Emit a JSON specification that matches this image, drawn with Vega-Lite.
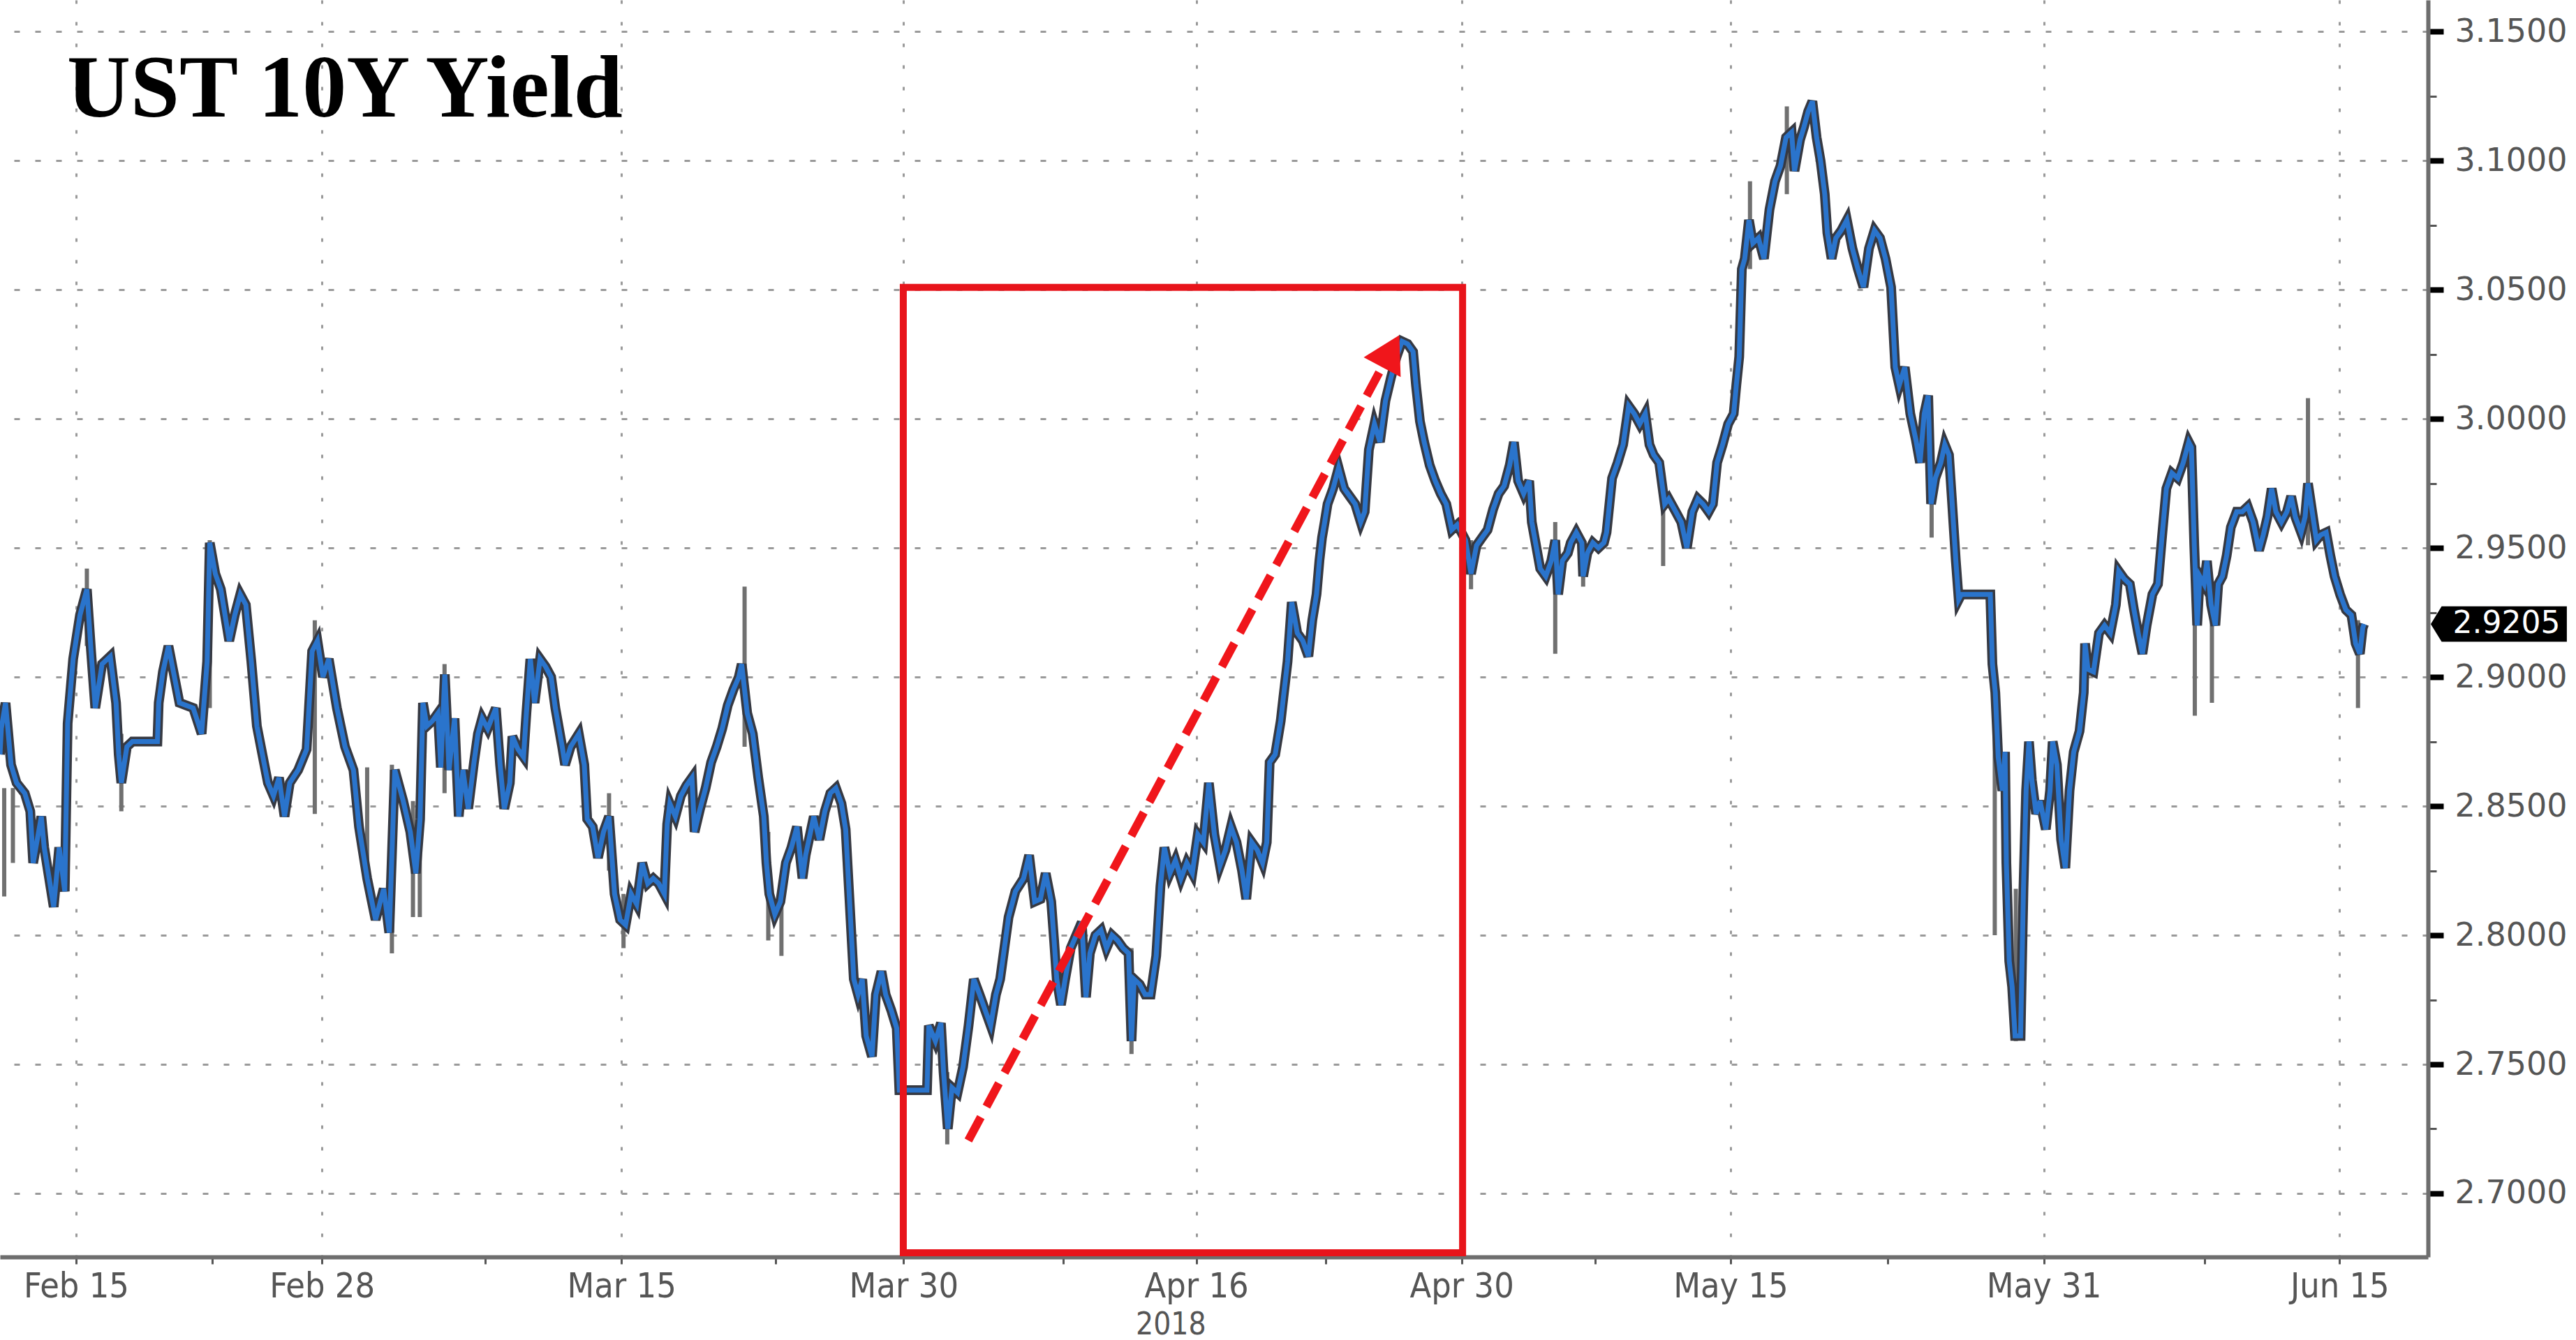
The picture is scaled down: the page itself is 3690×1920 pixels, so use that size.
{
  "$schema": "https://vega.github.io/schema/vega-lite/v6.json",
  "width": 3478,
  "height": 1801,
  "padding": 0,
  "background": "white",
  "config": {"view": {"stroke": null}},
  "datasets": {
    "series": [
      {"t":-2.89,"v":2.870},{"t":-2.84,"v":2.880},{"t":-2.68,"v":2.890},{"t":-2.47,"v":2.866},{"t":-2.26,"v":2.859},{"t":-1.95,"v":2.855},{"t":-1.74,"v":2.848},{"t":-1.63,"v":2.828},{"t":-1.32,"v":2.846},{"t":-1.21,"v":2.834},{"t":-0.85,"v":2.811},{"t":-0.64,"v":2.834},{"t":-0.43,"v":2.817},{"t":-0.32,"v":2.882},{"t":-0.11,"v":2.907},{"t":0.15,"v":2.924},{"t":0.41,"v":2.934},{"t":0.57,"v":2.910},{"t":0.73,"v":2.888},{"t":0.99,"v":2.905},{"t":1.30,"v":2.908},{"t":1.52,"v":2.890},{"t":1.62,"v":2.870},{"t":1.72,"v":2.859},{"t":1.93,"v":2.873},{"t":2.14,"v":2.875},{"t":3.09,"v":2.875},{"t":3.14,"v":2.890},{"t":3.30,"v":2.902},{"t":3.51,"v":2.912},{"t":3.93,"v":2.890},{"t":4.45,"v":2.888},{"t":4.77,"v":2.878},{"t":4.98,"v":2.906},{"t":5.08,"v":2.952},{"t":5.29,"v":2.940},{"t":5.50,"v":2.934},{"t":5.82,"v":2.914},{"t":6.03,"v":2.924},{"t":6.24,"v":2.932},{"t":6.45,"v":2.928},{"t":6.66,"v":2.906},{"t":6.87,"v":2.881},{"t":7.08,"v":2.870},{"t":7.29,"v":2.859},{"t":7.50,"v":2.854},{"t":7.71,"v":2.861},{"t":7.92,"v":2.846},{"t":8.12,"v":2.859},{"t":8.44,"v":2.864},{"t":8.76,"v":2.872},{"t":8.97,"v":2.910},{"t":9.17,"v":2.914},{"t":9.38,"v":2.900},{"t":9.60,"v":2.907},{"t":9.91,"v":2.888},{"t":10.22,"v":2.873},{"t":10.54,"v":2.864},{"t":10.75,"v":2.842},{"t":11.06,"v":2.822},{"t":11.38,"v":2.806},{"t":11.69,"v":2.818},{"t":11.90,"v":2.801},{"t":12.11,"v":2.864},{"t":12.43,"v":2.852},
      {"t":12.70,"v":2.840},{"t":12.91,"v":2.824},{"t":13.07,"v":2.845},{"t":13.18,"v":2.890},{"t":13.33,"v":2.881},{"t":13.54,"v":2.883},{"t":13.75,"v":2.886},{"t":13.86,"v":2.865},{"t":14.01,"v":2.901},{"t":14.07,"v":2.888},{"t":14.17,"v":2.864},{"t":14.38,"v":2.884},{"t":14.54,"v":2.846},{"t":14.70,"v":2.864},{"t":14.90,"v":2.849},{"t":15.12,"v":2.867},{"t":15.27,"v":2.878},{"t":15.43,"v":2.884},{"t":15.64,"v":2.880},{"t":15.95,"v":2.888},{"t":16.11,"v":2.866},{"t":16.27,"v":2.849},{"t":16.48,"v":2.859},{"t":16.58,"v":2.877},{"t":16.79,"v":2.872},{"t":17.00,"v":2.869},{"t":17.11,"v":2.886},{"t":17.26,"v":2.907},{"t":17.42,"v":2.890},{"t":17.63,"v":2.907},{"t":17.84,"v":2.904},{"t":18.05,"v":2.900},{"t":18.21,"v":2.888},{"t":18.47,"v":2.873},{"t":18.58,"v":2.866},{"t":18.79,"v":2.873},{"t":19.10,"v":2.878},{"t":19.31,"v":2.866},{"t":19.42,"v":2.845},{"t":19.63,"v":2.842},{"t":19.83,"v":2.830},{"t":20.04,"v":2.840},{"t":20.25,"v":2.846},{"t":20.46,"v":2.816},{"t":20.67,"v":2.806},{"t":20.88,"v":2.804},{"t":21.09,"v":2.816},{"t":21.30,"v":2.812},{"t":21.51,"v":2.828},{"t":21.72,"v":2.820},{"t":21.93,"v":2.822},{"t":22.14,"v":2.820},{"t":22.35,"v":2.816},{"t":22.46,"v":2.843},{"t":22.56,"v":2.851},{"t":22.77,"v":2.846},{"t":22.98,"v":2.854},{"t":23.19,"v":2.858},{"t":23.40,"v":2.861},{"t":23.50,"v":2.840},{"t":23.71,"v":2.849},{"t":23.92,"v":2.857},{"t":24.13,"v":2.867},{"t":24.34,"v":2.873},{"t":24.55,"v":2.880},{"t":24.76,"v":2.889},{"t":24.97,"v":2.895},{"t":25.18,"v":2.900},{"t":25.29,"v":2.905},{"t":25.50,"v":2.886},{"t":25.71,"v":2.878},{"t":25.92,"v":2.861},{"t":26.13,"v":2.846},{"t":26.23,"v":2.828},{"t":26.34,"v":2.816},{"t":26.55,"v":2.808},{"t":26.76,"v":2.813},{"t":26.97,"v":2.828},{"t":27.18,"v":2.834},{"t":27.39,"v":2.842},{"t":27.60,"v":2.822},
      {"t":27.72,"v":2.831},{"t":28.03,"v":2.846},{"t":28.24,"v":2.837},{"t":28.45,"v":2.848},{"t":28.66,"v":2.855},{"t":28.87,"v":2.857},{"t":29.08,"v":2.851},{"t":29.24,"v":2.841},{"t":29.39,"v":2.813},{"t":29.55,"v":2.783},{"t":29.71,"v":2.777},{"t":29.87,"v":2.783},{"t":30.02,"v":2.761},{"t":30.24,"v":2.753},{"t":30.39,"v":2.777},{"t":30.60,"v":2.786},{"t":30.76,"v":2.777},{"t":30.97,"v":2.771},{"t":31.18,"v":2.764},{"t":31.28,"v":2.740},{"t":32.33,"v":2.740},{"t":32.40,"v":2.765},{"t":32.65,"v":2.759},{"t":32.86,"v":2.766},{"t":32.96,"v":2.747},{"t":33.12,"v":2.725},{"t":33.28,"v":2.741},{"t":33.49,"v":2.739},{"t":33.70,"v":2.749},{"t":33.91,"v":2.765},{"t":34.11,"v":2.783},{"t":34.33,"v":2.777},{"t":34.54,"v":2.771},{"t":34.75,"v":2.765},{"t":34.95,"v":2.777},{"t":35.11,"v":2.783},{"t":35.27,"v":2.795},{"t":35.43,"v":2.807},{"t":35.69,"v":2.817},{"t":36.00,"v":2.822},{"t":36.21,"v":2.831},{"t":36.42,"v":2.813},{"t":36.64,"v":2.814},{"t":36.84,"v":2.824},{"t":37.05,"v":2.813},{"t":37.16,"v":2.798},{"t":37.26,"v":2.783},{"t":37.42,"v":2.773},{"t":37.58,"v":2.783},{"t":37.79,"v":2.795},{"t":38.00,"v":2.800},{"t":38.21,"v":2.805},{"t":38.37,"v":2.776},{"t":38.52,"v":2.793},{"t":38.73,"v":2.800},{"t":38.94,"v":2.802},{"t":39.15,"v":2.795},{"t":39.36,"v":2.800},{"t":39.57,"v":2.798},{"t":39.78,"v":2.795},{"t":39.99,"v":2.793},{"t":40.10,"v":2.759},{"t":40.20,"v":2.783},{"t":40.41,"v":2.781},{"t":40.62,"v":2.777},{"t":40.83,"v":2.777},{"t":41.04,"v":2.792},{"t":41.20,"v":2.819},{"t":41.35,"v":2.834},{"t":41.56,"v":2.824},{"t":41.77,"v":2.829},{"t":41.98,"v":2.822},
      {"t":42.20,"v":2.828},{"t":42.41,"v":2.824},{"t":42.62,"v":2.839},{"t":42.83,"v":2.836},{"t":43.04,"v":2.859},{"t":43.25,"v":2.839},{"t":43.46,"v":2.827},{"t":43.67,"v":2.833},{"t":43.88,"v":2.842},{"t":44.09,"v":2.836},{"t":44.30,"v":2.825},{"t":44.46,"v":2.814},{"t":44.67,"v":2.836},{"t":44.88,"v":2.833},{"t":45.08,"v":2.828},{"t":45.24,"v":2.836},{"t":45.35,"v":2.867},{"t":45.56,"v":2.870},{"t":45.77,"v":2.883},{"t":45.87,"v":2.892},{"t":46.03,"v":2.906},{"t":46.19,"v":2.929},{"t":46.40,"v":2.917},{"t":46.61,"v":2.914},{"t":46.82,"v":2.908},{"t":46.97,"v":2.922},{"t":47.13,"v":2.932},{"t":47.24,"v":2.945},{"t":47.34,"v":2.954},{"t":47.44,"v":2.960},{"t":47.55,"v":2.967},{"t":47.76,"v":2.973},{"t":47.97,"v":2.981},{"t":48.18,"v":2.973},{"t":48.39,"v":2.970},{"t":48.60,"v":2.967},{"t":48.81,"v":2.960},{"t":48.96,"v":2.964},{"t":49.12,"v":2.988},{"t":49.33,"v":2.998},{"t":49.54,"v":2.991},{"t":49.75,"v":3.007},{"t":49.96,"v":3.016},{"t":50.17,"v":3.024},{"t":50.38,"v":3.030},{"t":50.59,"v":3.029},{"t":50.80,"v":3.026},{"t":50.91,"v":3.013},{"t":51.06,"v":2.999},{"t":51.22,"v":2.991},{"t":51.43,"v":2.982},{"t":51.64,"v":2.976},{"t":51.85,"v":2.971},{"t":52.06,"v":2.967},{"t":52.27,"v":2.957},{"t":52.48,"v":2.959},{"t":52.79,"v":2.953},{"t":53.00,"v":2.940},{"t":53.21,"v":2.951},{"t":53.42,"v":2.954},{"t":53.63,"v":2.957},{"t":53.84,"v":2.965},{"t":54.05,"v":2.971},{"t":54.26,"v":2.974},{"t":54.47,"v":2.982},{"t":54.63,"v":2.991},{"t":54.79,"v":2.976},{"t":55.00,"v":2.971},{"t":55.21,"v":2.976},{"t":55.31,"v":2.960},{"t":55.47,"v":2.951},{"t":55.63,"v":2.942},{"t":55.84,"v":2.939},{"t":56.05,"v":2.945},{"t":56.20,"v":2.953},{"t":56.31,"v":2.932},{"t":56.47,"v":2.945},{"t":56.68,"v":2.948},
      {"t":56.79,"v":2.952},{"t":57.00,"v":2.956},{"t":57.21,"v":2.952},{"t":57.26,"v":2.939},{"t":57.42,"v":2.948},{"t":57.63,"v":2.952},{"t":57.84,"v":2.950},{"t":58.05,"v":2.952},{"t":58.15,"v":2.956},{"t":58.26,"v":2.967},{"t":58.36,"v":2.977},{"t":58.57,"v":2.983},{"t":58.78,"v":2.990},{"t":58.99,"v":3.005},{"t":59.20,"v":3.002},{"t":59.41,"v":2.998},{"t":59.62,"v":3.002},{"t":59.78,"v":2.990},{"t":59.94,"v":2.986},{"t":60.15,"v":2.983},{"t":60.36,"v":2.967},{"t":60.51,"v":2.969},{"t":60.78,"v":2.964},{"t":60.99,"v":2.960},{"t":61.20,"v":2.950},{"t":61.41,"v":2.964},{"t":61.62,"v":2.969},{"t":61.82,"v":2.967},{"t":62.03,"v":2.964},{"t":62.19,"v":2.967},{"t":62.35,"v":2.983},{"t":62.56,"v":2.990},{"t":62.77,"v":2.998},{"t":62.98,"v":3.002},{"t":63.08,"v":3.013},{"t":63.19,"v":3.024},{"t":63.29,"v":3.058},{"t":63.40,"v":3.062},{"t":63.56,"v":3.077},{"t":63.71,"v":3.068},{"t":63.92,"v":3.070},{"t":64.13,"v":3.062},{"t":64.24,"v":3.072},{"t":64.34,"v":3.081},{"t":64.55,"v":3.092},{"t":64.76,"v":3.098},{"t":64.97,"v":3.109},{"t":65.18,"v":3.111},{"t":65.29,"v":3.096},{"t":65.50,"v":3.108},{"t":65.65,"v":3.113},{"t":65.81,"v":3.119},{"t":65.97,"v":3.123},{"t":66.13,"v":3.109},{"t":66.28,"v":3.100},{"t":66.44,"v":3.087},{"t":66.54,"v":3.072},{"t":66.70,"v":3.062},{"t":66.86,"v":3.070},{"t":67.07,"v":3.073},{"t":67.28,"v":3.077},{"t":67.49,"v":3.066},{"t":67.70,"v":3.058},{"t":67.91,"v":3.051},{"t":68.12,"v":3.066},{"t":68.33,"v":3.073},{"t":68.54,"v":3.070},{"t":68.75,"v":3.062},{"t":68.96,"v":3.051},{"t":69.12,"v":3.020},{"t":69.27,"v":3.013},{"t":69.48,"v":3.020},{"t":69.69,"v":3.002},{"t":69.90,"v":2.992},{"t":70.06,"v":2.983},{"t":70.22,"v":3.002},{"t":70.37,"v":3.009},{"t":70.48,"v":2.967},{"t":70.64,"v":2.977},{"t":70.85,"v":2.983},{"t":71.00,"v":2.990},{"t":71.16,"v":2.986},{"t":71.27,"v":2.969},{"t":71.42,"v":2.945},{"t":71.53,"v":2.930},{"t":71.63,"v":2.932},{"t":72.73,"v":2.932},
      {"t":72.81,"v":2.905},{"t":72.92,"v":2.894},{"t":73.03,"v":2.869},{"t":73.19,"v":2.856},{"t":73.29,"v":2.871},{"t":73.34,"v":2.828},{"t":73.45,"v":2.790},{"t":73.56,"v":2.780},{"t":73.67,"v":2.761},{"t":73.88,"v":2.761},{"t":73.99,"v":2.818},{"t":74.09,"v":2.856},{"t":74.20,"v":2.875},{"t":74.31,"v":2.860},{"t":74.47,"v":2.847},{"t":74.62,"v":2.852},{"t":74.84,"v":2.841},{"t":75.00,"v":2.856},{"t":75.10,"v":2.875},{"t":75.26,"v":2.866},{"t":75.42,"v":2.837},{"t":75.58,"v":2.826},{"t":75.74,"v":2.856},{"t":75.90,"v":2.871},{"t":76.12,"v":2.879},{"t":76.28,"v":2.894},{"t":76.33,"v":2.913},{"t":76.44,"v":2.903},{"t":76.65,"v":2.902},{"t":76.86,"v":2.917},{"t":77.07,"v":2.920},{"t":77.29,"v":2.917},{"t":77.50,"v":2.928},{"t":77.61,"v":2.941},{"t":77.82,"v":2.938},{"t":78.03,"v":2.936},{"t":78.19,"v":2.926},{"t":78.35,"v":2.917},{"t":78.51,"v":2.909},{"t":78.67,"v":2.920},{"t":78.89,"v":2.932},{"t":79.10,"v":2.936},{"t":79.26,"v":2.955},{"t":79.42,"v":2.973},{"t":79.63,"v":2.979},{"t":79.85,"v":2.977},{"t":80.06,"v":2.983},{"t":80.27,"v":2.991},{"t":80.37,"v":2.989},{"t":80.48,"v":2.951},{"t":80.59,"v":2.920},{"t":80.69,"v":2.939},{"t":80.85,"v":2.936},{"t":80.96,"v":2.945},{"t":81.12,"v":2.928},{"t":81.28,"v":2.920},{"t":81.39,"v":2.936},{"t":81.55,"v":2.939},{"t":81.71,"v":2.947},{"t":81.87,"v":2.958},{"t":82.09,"v":2.964},{"t":82.30,"v":2.964},{"t":82.51,"v":2.966},{"t":82.72,"v":2.960},{"t":82.94,"v":2.949},{"t":83.10,"v":2.955},{"t":83.26,"v":2.962},{"t":83.42,"v":2.973},{"t":83.58,"v":2.964},{"t":83.79,"v":2.960},{"t":84.00,"v":2.964},{"t":84.16,"v":2.970},{"t":84.32,"v":2.962},{"t":84.54,"v":2.956},{"t":84.69,"v":2.962},{"t":84.80,"v":2.975},{"t":84.96,"v":2.964},{"t":85.12,"v":2.953},{"t":85.28,"v":2.955},{"t":85.49,"v":2.956},{"t":85.65,"v":2.947},{"t":85.81,"v":2.939},{"t":86.02,"v":2.932},{"t":86.24,"v":2.926},{"t":86.45,"v":2.924},{"t":86.61,"v":2.913},{"t":86.77,"v":2.909},{"t":86.88,"v":2.919},{"t":86.93,"v":2.9205}
    ],
    "wicks": [
      {"t":-2.73,"v":2.815,"v2":2.857},{"t":-2.40,"v":2.828,"v2":2.857},{"t":-0.37,"v":2.817,"v2":2.888},{"t":0.41,"v":2.912,"v2":2.942},{"t":1.72,"v":2.848,"v2":2.878},{"t":5.08,"v":2.888,"v2":2.953},{"t":9.07,"v":2.847,"v2":2.922},{"t":11.06,"v":2.823,"v2":2.865},{"t":12.00,"v":2.793,"v2":2.866},{"t":12.80,"v":2.807,"v2":2.852},{"t":13.06,"v":2.807,"v2":2.876},{"t":14.00,"v":2.855,"v2":2.905},{"t":20.25,"v":2.825,"v2":2.855},{"t":20.80,"v":2.795,"v2":2.816},{"t":25.40,"v":2.873,"v2":2.935},{"t":26.30,"v":2.798,"v2":2.840},{"t":26.80,"v":2.792,"v2":2.816},{"t":33.10,"v":2.719,"v2":2.747},{"t":40.10,"v":2.754,"v2":2.795},{"t":53.00,"v":2.934,"v2":2.953},{"t":56.20,"v":2.909,"v2":2.960},{"t":57.26,"v":2.935,"v2":2.952},{"t":60.30,"v":2.943,"v2":2.979},{"t":63.60,"v":3.058,"v2":3.092},{"t":65.00,"v":3.087,"v2":3.121},{"t":70.50,"v":2.954,"v2":2.983},{"t":72.90,"v":2.800,"v2":2.905},{"t":73.70,"v":2.759,"v2":2.818},{"t":80.50,"v":2.885,"v2":2.951},{"t":81.15,"v":2.890,"v2":2.936},{"t":84.80,"v":2.951,"v2":3.008},{"t":86.70,"v":2.888,"v2":2.922}
    ],
    "box": [{"t":31.43,"t2":52.68,"v":2.677,"v2":3.0509}],
    "arrow": [{"t":33.9,"v":2.7205},{"t":49.62,"v":3.020}],
    "head": [{"t":49.95,"v":3.0262}],
    "title": [{"t":-0.345,"v":3.117,"label":"UST 10Y Yield"}],
    "year": [{"t":41.6,"v":2.6488,"label":"2018"}],
    "tagbox": [{"t":92.05,"v":2.9205}],
    "tagtext": [{"t":90.3,"v":2.9205,"label":"2.9205"}]
  },
  "encoding": {
    "x": {"field": "t", "type": "quantitative", "scale": {"domain": [-2.89, 89.36], "nice": false, "zero": false},
      "axis": {"title": null, "orient": "bottom",
        "values": [0, 5.17, 9.34, 15.55, 20.72, 26.57, 31.44, 37.51, 42.56, 47.47, 52.64, 57.73, 62.86, 68.83, 74.76, 80.87, 86],
        "labelExpr": "round(datum.value*100) % 2 === 1 ? '' : datum.value < 1 ? 'Feb 15' : datum.value < 10 ? 'Feb 28' : datum.value < 21 ? 'Mar 15' : datum.value < 32 ? 'Mar 30' : datum.value < 43 ? 'Apr 16' : datum.value < 53 ? 'Apr 30' : datum.value < 63 ? 'May 15' : datum.value < 75 ? 'May 31' : 'Jun 15'",
        "labelFont": "DejaVu Sans Condensed", "labelFontSize": 50, "labelColor": "#555555", "labelPadding": 7,
        "labelOverlap": false, "labelFlush": false, "labelBound": false,
        "domainColor": "#6e6e6e", "domainWidth": 6,
        "tickColor": "#555555", "tickWidth": 3, "tickSize": 10,
        "grid": true, "gridColor": "#9a9a9a", "gridWidth": 3, "gridDash": [5, 26],
        "gridOpacity": {"condition": {"test": "round(datum.value*100) % 2 === 1", "value": 0}, "value": 1}
      }},
    "y": {"field": "v", "type": "quantitative", "scale": {"domain": [2.6754, 3.1622], "nice": false, "zero": false},
      "axis": {"title": null, "orient": "right",
        "values": [2.7, 2.725, 2.75, 2.775, 2.8, 2.825, 2.85, 2.875, 2.9, 2.925, 2.95, 2.975, 3.0, 3.025, 3.05, 3.075, 3.1, 3.125, 3.15],
        "labelExpr": "round(datum.value*1000) % 50 === 0 ? format(datum.value, '.4f') : ''",
        "labelFont": "DejaVu Sans", "labelFontSize": 46, "labelColor": "#555555", "labelPadding": 16,
        "labelOverlap": false, "labelBound": false, "labelFlush": false,
        "domainColor": "#6e6e6e", "domainWidth": 6,
        "tickColor": {"condition": {"test": "round(datum.value*1000) % 50 !== 0", "value": "#555555"}, "value": "#000000"},
        "tickWidth": {"condition": {"test": "round(datum.value*1000) % 50 !== 0", "value": 3}, "value": 8},
        "tickSize": {"condition": {"test": "round(datum.value*1000) % 50 !== 0", "value": 12}, "value": 22},
        "grid": true, "gridColor": "#9a9a9a", "gridWidth": 3, "gridDash": [8, 22],
        "gridOpacity": {"condition": {"test": "round(datum.value*1000) % 50 !== 0", "value": 0}, "value": 1}
      }}
  },
  "layer": [
    {
      "data": {"name": "wicks"},
      "mark": {"type": "rule", "color": "#707070", "strokeWidth": 6},
      "encoding": {"y2": {"field": "v2"}}
    },
    {
      "data": {"name": "series"},
      "mark": {"type": "line", "color": "#363942", "strokeWidth": 14, "clip": true}
    },
    {
      "data": {"name": "series"},
      "mark": {"type": "line", "color": "#2a74cc", "strokeWidth": 7, "clip": true}
    },
    {
      "data": {"name": "box"},
      "mark": {"type": "rect", "filled": false, "stroke": "#e8141b", "strokeWidth": 10},
      "encoding": {"x2": {"field": "t2"}, "y2": {"field": "v2"}}
    },
    {
      "data": {"name": "arrow"},
      "mark": {"type": "line", "color": "#f0161b", "strokeWidth": 12, "strokeDash": [38, 17], "strokeCap": "butt"}
    },
    {
      "data": {"name": "head"},
      "mark": {"type": "point", "shape": "triangle-up", "filled": true, "color": "#f0161b", "opacity": 1, "size": 3600, "angle": 28.1}
    },
    {
      "data": {"name": "title"},
      "mark": {"type": "text", "font": "Liberation Serif", "fontWeight": "bold", "fontSize": 126, "align": "left", "baseline": "alphabetic", "color": "#000000"},
      "encoding": {"text": {"field": "label"}}
    },
    {
      "data": {"name": "year"},
      "mark": {"type": "text", "font": "DejaVu Sans Condensed", "fontSize": 44, "align": "center", "baseline": "middle", "color": "#555555"},
      "encoding": {"text": {"field": "label"}}
    },
    {
      "data": {"name": "tagbox"},
      "mark": {"type": "point", "shape": "M -1 0 L -0.84 -0.26 L 1 -0.26 L 1 0.26 L -0.84 0.26 Z", "filled": true, "color": "#000000", "opacity": 1, "size": 38000}
    },
    {
      "data": {"name": "tagtext"},
      "mark": {"type": "text", "font": "DejaVu Sans", "fontSize": 44, "align": "left", "baseline": "middle", "color": "#ffffff"},
      "encoding": {"text": {"field": "label"}}
    }
  ]
}
